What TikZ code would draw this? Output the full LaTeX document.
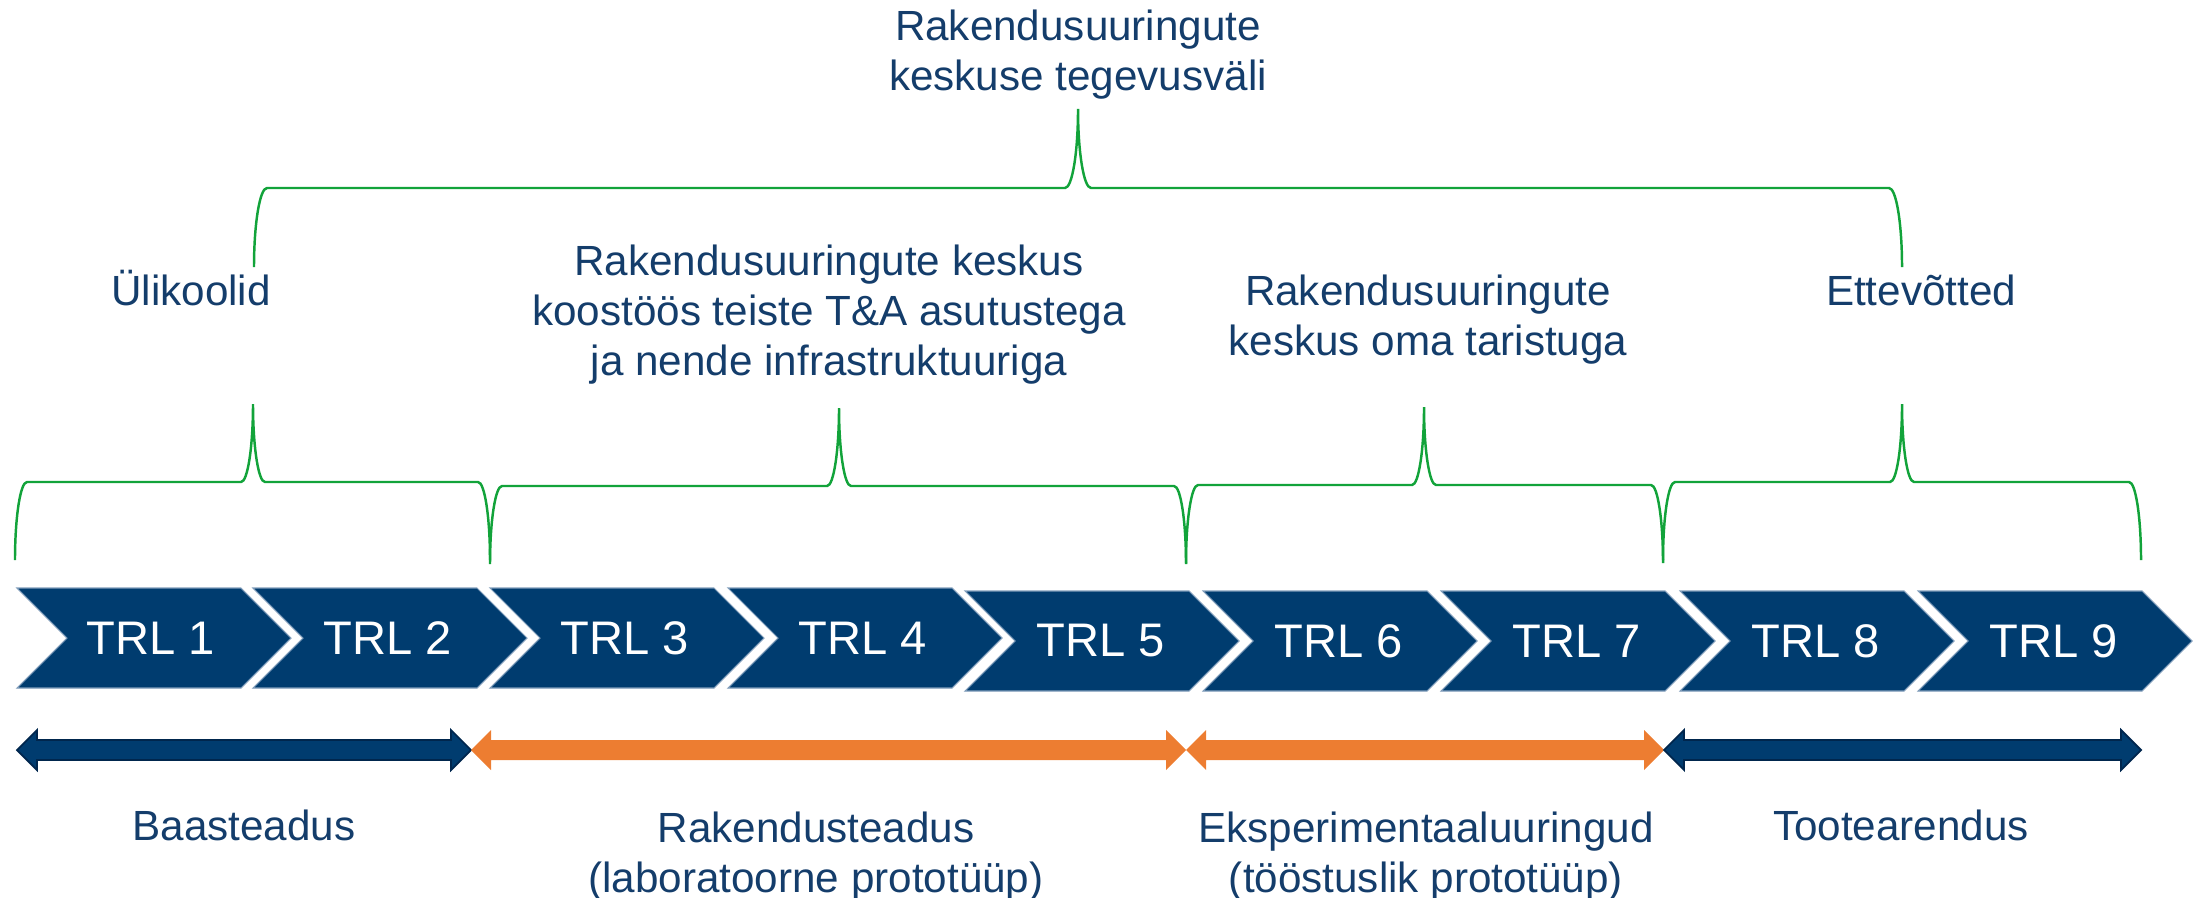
\documentclass[tikz,border=0pt]{standalone}
\usepackage{fontspec}
\setmainfont{Liberation Sans}
\definecolor{trlblue}{HTML}{003C6F}
\definecolor{trledge}{HTML}{7F9CBA}
\definecolor{arrline}{HTML}{00264D}
\definecolor{txtblue}{HTML}{143D6B}
\definecolor{brcgreen}{HTML}{12A33A}
\definecolor{arrorange}{HTML}{ED7D31}
\begin{document}
\begin{tikzpicture}[x=0.01cm, y=-0.01cm,
  chev/.style={fill=trlblue, draw=trledge, line width=0.3pt},
  trl/.style={text=white, inner sep=0pt, font=\fontsize{13.4pt}{16pt}\selectfont},
  lbl/.style={text=txtblue, align=center, inner sep=0pt, anchor=base, font=\fontsize{12pt}{14.2pt}\selectfont},
  brc/.style={draw=brcgreen, line width=0.7pt},
  arrblue/.style={fill=trlblue, draw=arrline, line width=0.5pt},
  arrorng/.style={fill=arrorange}]
\useasboundingbox (0,0) rectangle (2201,897);
% TRL chevrons
\path[chev] (17,588) -- ++(224,0) -- ++(50,50) -- ++(-50,50) -- ++(-224,0) -- ++(50,-50) -- cycle;
\path[chev] (253,588) -- ++(224,0) -- ++(50,50) -- ++(-50,50) -- ++(-224,0) -- ++(50,-50) -- cycle;
\path[chev] (490,588) -- ++(224,0) -- ++(50,50) -- ++(-50,50) -- ++(-224,0) -- ++(50,-50) -- cycle;
\path[chev] (728,588) -- ++(224,0) -- ++(50,50) -- ++(-50,50) -- ++(-224,0) -- ++(50,-50) -- cycle;
\path[chev] (965,591) -- ++(224,0) -- ++(50,50) -- ++(-50,50) -- ++(-224,0) -- ++(50,-50) -- cycle;
\path[chev] (1203,591) -- ++(224,0) -- ++(50,50) -- ++(-50,50) -- ++(-224,0) -- ++(50,-50) -- cycle;
\path[chev] (1441,591) -- ++(224,0) -- ++(50,50) -- ++(-50,50) -- ++(-224,0) -- ++(50,-50) -- cycle;
\path[chev] (1680,591) -- ++(224,0) -- ++(50,50) -- ++(-50,50) -- ++(-224,0) -- ++(50,-50) -- cycle;
\path[chev] (1918,591) -- ++(224,0) -- ++(50,50) -- ++(-50,50) -- ++(-224,0) -- ++(50,-50) -- cycle;
\node[trl] (trl1) at (151,638){TRL 1};
\node[trl] (trl2) at (388,638){TRL 2};
\node[trl] (trl3) at (625,638){TRL 3};
\node[trl] (trl4) at (863,638){TRL 4};
\node[trl] (trl5) at (1101,641){TRL 5};
\node[trl] (trl6) at (1339,641){TRL 6};
\node[trl] (trl7) at (1577,641){TRL 7};
\node[trl] (trl8) at (1816,641){TRL 8};
\node[trl] (trl9) at (2054,641){TRL 9};
% double arrows
\path[arrblue] (17,750) -- (37,730) -- (37,740) -- (451,740) -- (451,730) -- (471,750) -- (451,770) -- (451,760) -- (37,760) -- (37,770) -- cycle;
\path[arrorng] (471,750) -- (491,730) -- (491,740) -- (1166,740) -- (1166,730) -- (1186,750) -- (1166,770) -- (1166,760) -- (491,760) -- (491,770) -- cycle;
\path[arrorng] (1186,750) -- (1206,730) -- (1206,740) -- (1644,740) -- (1644,730) -- (1664,750) -- (1644,770) -- (1644,760) -- (1206,760) -- (1206,770) -- cycle;
\path[arrblue] (1664,750) -- (1684,730) -- (1684,740) -- (2121,740) -- (2121,730) -- (2141,750) -- (2121,770) -- (2121,760) -- (1684,760) -- (1684,770) -- cycle;
% braces
\draw[brc] (15,560) arc[start angle=180, end angle=270, x radius=12, y radius=78] -- (241,482) arc[start angle=90, end angle=0, x radius=12, y radius=78] arc[start angle=180, end angle=90, x radius=12, y radius=78] -- (478,482) arc[start angle=270, end angle=360, x radius=12, y radius=78];
\draw[brc] (490,564) arc[start angle=180, end angle=270, x radius=12, y radius=78] -- (827,486) arc[start angle=90, end angle=0, x radius=12, y radius=78] arc[start angle=180, end angle=90, x radius=12, y radius=78] -- (1174,486) arc[start angle=270, end angle=360, x radius=12, y radius=78];
\draw[brc] (1186,563) arc[start angle=180, end angle=270, x radius=12, y radius=78] -- (1412,485) arc[start angle=90, end angle=0, x radius=12, y radius=78] arc[start angle=180, end angle=90, x radius=12, y radius=78] -- (1651,485) arc[start angle=270, end angle=360, x radius=12, y radius=78];
\draw[brc] (1663,560) arc[start angle=180, end angle=270, x radius=12, y radius=78] -- (1890,482) arc[start angle=90, end angle=0, x radius=12, y radius=78] arc[start angle=180, end angle=90, x radius=12, y radius=78] -- (2129,482) arc[start angle=270, end angle=360, x radius=12, y radius=78];
\draw[brc] (254,267) arc[start angle=180, end angle=270, x radius=13, y radius=79] -- (1065,188) arc[start angle=90, end angle=0, x radius=13, y radius=79] arc[start angle=180, end angle=90, x radius=13, y radius=79] -- (1889,188) arc[start angle=270, end angle=360, x radius=13, y radius=79];
% labels (anchored at the baseline of the last line)
\node[lbl] (valdkond) at (1078,90){Rakendusuuringute\\keskuse tegevusväli};
\node[lbl] (ylikool) at (191,305){Ülikoolid};
\node[lbl] (koostoo) at (829,375){Rakendusuuringute keskus\\koostöös teiste T\&A asutustega\\ja nende infrastruktuuriga};
\node[lbl] (taristu) at (1428,355){Rakendusuuringute\\keskus oma taristuga};
\node[lbl] (ettevotted) at (1921,305){Ettevõtted};
\node[lbl] (baas) at (244,840){Baasteadus};
\node[lbl] (rakteadus) at (816,892){Rakendusteadus\\(laboratoorne prototüüp)};
\node[lbl] (eksp) at (1426,892){Eksperimentaaluuringud\\(tööstuslik prototüüp)};
\node[lbl] (toote) at (1901,840){Tootearendus};
\end{tikzpicture}
\end{document}
